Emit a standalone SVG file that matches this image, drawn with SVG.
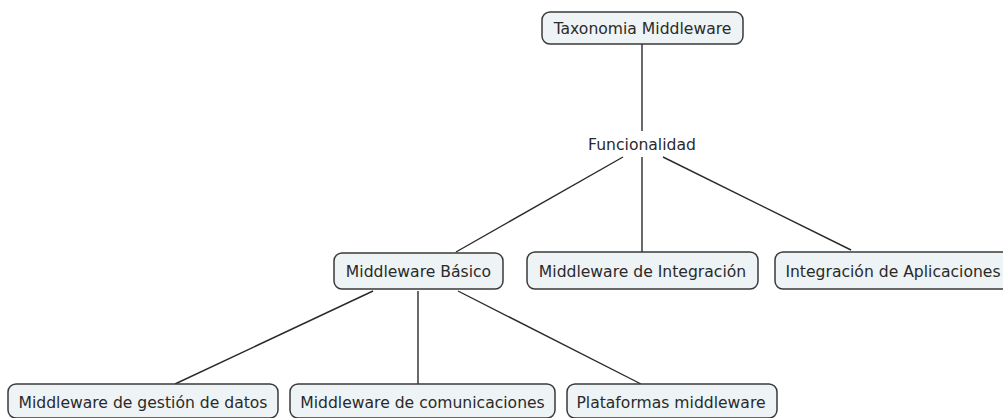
<svg xmlns="http://www.w3.org/2000/svg" width="1003" height="418" viewBox="0 0 1003 418">
  <style>
    .box { fill: #eef3f5; stroke: #3a3a3a; stroke-width: 1.5; }
    .lbl { font-family: "DejaVu Sans", Verdana, sans-serif; font-size: 15.6px; fill: #2a2a2a; text-anchor: middle; }
    .link { stroke: #2a2a2a; stroke-width: 1.4; fill: none; }
  </style>
  <rect width="1003" height="418" fill="#ffffff"/>
  <g id="connectors">
    <line class="link" x1="642" y1="44" x2="642" y2="131"/>
    <line class="link" x1="623" y1="157" x2="456" y2="252"/>
    <line class="link" x1="642" y1="157" x2="642" y2="252"/>
    <line class="link" x1="663" y1="157" x2="851" y2="250"/>
    <line class="link" x1="373" y1="291" x2="175" y2="384"/>
    <line class="link" x1="418" y1="291" x2="418" y2="384"/>
    <line class="link" x1="458" y1="291" x2="641" y2="384"/>
  </g>
  <g id="taxonomia">
    <rect class="box" x="542" y="12" width="201" height="32" rx="8"/>
    <text class="lbl" x="642.5" y="34">Taxonomia Middleware</text>
  </g>
  <g id="funcionalidad">
    <text class="lbl" x="642" y="150">Funcionalidad</text>
  </g>
  <g id="mw-basico">
    <rect class="box" x="334" y="253" width="169" height="36" rx="8"/>
    <text class="lbl" x="418.5" y="277">Middleware Básico</text>
  </g>
  <g id="mw-integracion">
    <rect class="box" x="527" y="252" width="231" height="37" rx="8"/>
    <text class="lbl" x="642.5" y="277">Middleware de Integración</text>
  </g>
  <g id="integracion-aplicaciones">
    <rect class="box" x="775" y="252" width="236" height="37" rx="8"/>
    <text class="lbl" x="893" y="277">Integración de Aplicaciones</text>
  </g>
  <g id="mw-gestion-datos">
    <rect class="box" x="8" y="384" width="270" height="34" rx="8"/>
    <text class="lbl" x="143" y="408">Middleware de gestión de datos</text>
  </g>
  <g id="mw-comunicaciones">
    <rect class="box" x="290" y="384" width="265" height="34" rx="8"/>
    <text class="lbl" x="422.5" y="408">Middleware de comunicaciones</text>
  </g>
  <g id="plataformas">
    <rect class="box" x="567" y="384" width="210" height="34" rx="8"/>
    <text class="lbl" x="671" y="408">Plataformas middleware</text>
  </g>
</svg>
